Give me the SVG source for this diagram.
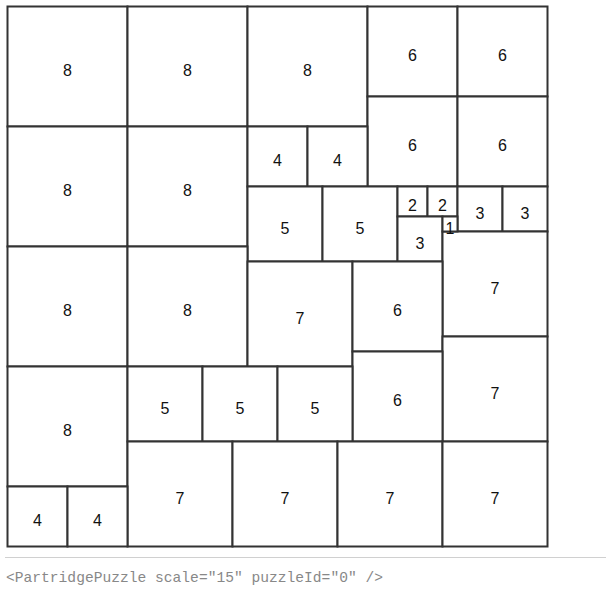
<svg xmlns="http://www.w3.org/2000/svg" width="607" height="593" viewBox="0 0 607 593">
<style>
rect.sq{fill:#fff;stroke:#333;stroke-width:2}
text.lb{font-family:"Liberation Sans",Arial,sans-serif;font-size:16px;fill:#111;text-anchor:middle}
.code{font-family:"Liberation Mono","DejaVu Sans Mono",monospace;font-size:15px;fill:#888}
</style>
<rect width="607" height="593" fill="#fff"/>
<g id="puzzle">
<g id="s1"><rect class="sq" x="7.5" y="6.5" width="120" height="120"/><text class="lb" x="67.5" y="76">8</text></g>
<g id="s2"><rect class="sq" x="127.5" y="6.5" width="120" height="120"/><text class="lb" x="187.5" y="76">8</text></g>
<g id="s3"><rect class="sq" x="247.5" y="6.5" width="120" height="120"/><text class="lb" x="307.5" y="76">8</text></g>
<g id="s4"><rect class="sq" x="367.5" y="6.5" width="90" height="90"/><text class="lb" x="412.5" y="61">6</text></g>
<g id="s5"><rect class="sq" x="457.5" y="6.5" width="90" height="90"/><text class="lb" x="502.5" y="61">6</text></g>
<g id="s6"><rect class="sq" x="367.5" y="96.5" width="90" height="90"/><text class="lb" x="412.5" y="151">6</text></g>
<g id="s7"><rect class="sq" x="457.5" y="96.5" width="90" height="90"/><text class="lb" x="502.5" y="151">6</text></g>
<g id="s8"><rect class="sq" x="7.5" y="126.5" width="120" height="120"/><text class="lb" x="67.5" y="196">8</text></g>
<g id="s9"><rect class="sq" x="127.5" y="126.5" width="120" height="120"/><text class="lb" x="187.5" y="196">8</text></g>
<g id="s10"><rect class="sq" x="247.5" y="126.5" width="60" height="60"/><text class="lb" x="277.5" y="166">4</text></g>
<g id="s11"><rect class="sq" x="307.5" y="126.5" width="60" height="60"/><text class="lb" x="337.5" y="166">4</text></g>
<g id="s12"><rect class="sq" x="247.5" y="186.5" width="75" height="75"/><text class="lb" x="285" y="233.5">5</text></g>
<g id="s13"><rect class="sq" x="322.5" y="186.5" width="75" height="75"/><text class="lb" x="360" y="233.5">5</text></g>
<g id="s14"><rect class="sq" x="397.5" y="186.5" width="30" height="30"/><text class="lb" x="412.5" y="211">2</text></g>
<g id="s15"><rect class="sq" x="427.5" y="186.5" width="30" height="30"/><text class="lb" x="442.5" y="211">2</text></g>
<g id="s16"><rect class="sq" x="457.5" y="186.5" width="45" height="45"/><text class="lb" x="480" y="218.5">3</text></g>
<g id="s17"><rect class="sq" x="502.5" y="186.5" width="45" height="45"/><text class="lb" x="525" y="218.5">3</text></g>
<g id="s18"><rect class="sq" x="397.5" y="216.5" width="45" height="45"/><text class="lb" x="420" y="248.5">3</text></g>
<g id="s20"><rect class="sq" x="442.5" y="231.5" width="105" height="105"/><text class="lb" x="495" y="293.5">7</text></g>
<g id="s19"><rect class="sq" x="442.5" y="216.5" width="15" height="15"/><text class="lb" x="450" y="233.5">1</text></g>
<g id="s21"><rect class="sq" x="7.5" y="246.5" width="120" height="120"/><text class="lb" x="67.5" y="316">8</text></g>
<g id="s22"><rect class="sq" x="127.5" y="246.5" width="120" height="120"/><text class="lb" x="187.5" y="316">8</text></g>
<g id="s23"><rect class="sq" x="247.5" y="261.5" width="105" height="105"/><text class="lb" x="300" y="323.5">7</text></g>
<g id="s24"><rect class="sq" x="352.5" y="261.5" width="90" height="90"/><text class="lb" x="397.5" y="316">6</text></g>
<g id="s25"><rect class="sq" x="442.5" y="336.5" width="105" height="105"/><text class="lb" x="495" y="398.5">7</text></g>
<g id="s26"><rect class="sq" x="352.5" y="351.5" width="90" height="90"/><text class="lb" x="397.5" y="406">6</text></g>
<g id="s27"><rect class="sq" x="7.5" y="366.5" width="120" height="120"/><text class="lb" x="67.5" y="436">8</text></g>
<g id="s28"><rect class="sq" x="127.5" y="366.5" width="75" height="75"/><text class="lb" x="165" y="413.5">5</text></g>
<g id="s29"><rect class="sq" x="202.5" y="366.5" width="75" height="75"/><text class="lb" x="240" y="413.5">5</text></g>
<g id="s30"><rect class="sq" x="277.5" y="366.5" width="75" height="75"/><text class="lb" x="315" y="413.5">5</text></g>
<g id="s31"><rect class="sq" x="127.5" y="441.5" width="105" height="105"/><text class="lb" x="180" y="503.5">7</text></g>
<g id="s32"><rect class="sq" x="232.5" y="441.5" width="105" height="105"/><text class="lb" x="285" y="503.5">7</text></g>
<g id="s33"><rect class="sq" x="337.5" y="441.5" width="105" height="105"/><text class="lb" x="390" y="503.5">7</text></g>
<g id="s34"><rect class="sq" x="442.5" y="441.5" width="105" height="105"/><text class="lb" x="495" y="503.5">7</text></g>
<g id="s35"><rect class="sq" x="7.5" y="486.5" width="60" height="60"/><text class="lb" x="37.5" y="526">4</text></g>
<g id="s36"><rect class="sq" x="67.5" y="486.5" width="60" height="60"/><text class="lb" x="97.5" y="526">4</text></g>
</g>
<line x1="5" y1="557.5" x2="606" y2="557.5" stroke="#d0d0d0" stroke-width="1"/>
<text class="code" x="6" y="582" textLength="377" lengthAdjust="spacingAndGlyphs">&lt;PartridgePuzzle scale="15" puzzleId="0" /&gt;</text>
</svg>
